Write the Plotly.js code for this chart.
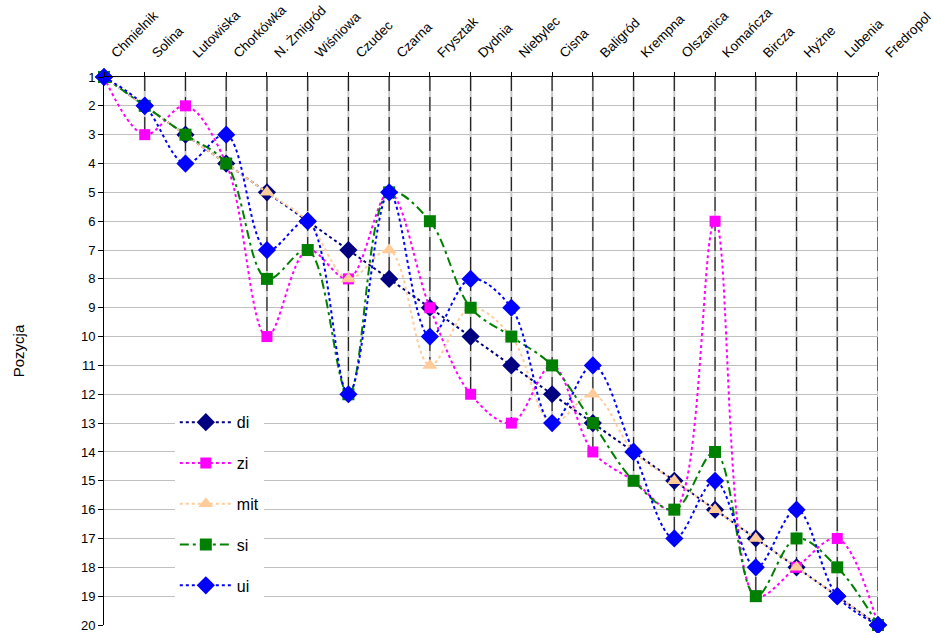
<!DOCTYPE html>
<html>
<head>
<meta charset="utf-8">
<script src="https://cdn.plot.ly/plotly-3.0.1.min.js"></script>
<style>html,body{margin:0;padding:0;background:#fff;}#chart{width:933px;height:633px;}</style>
</head>
<body>
<div id="chart"></div>
<script>
const categories = ["Chmielnik","Solina","Lutowiska","Chorkówka","N. Żmigród","Wiśniowa","Czudec","Czarna","Frysztak","Dydnia","Niebylec","Cisna","Baligród","Krempna","Olszanica","Komańcza","Bircza","Hyżne","Lubenia","Fredropol"];
const di  = [1,2,3,4,5,6,7,8,9,10,11,12,13,14,15,16,17,18,19,20];
const zi  = [1,3,2,4,10,7,8,5,9,12,13,11,14,15,16,6,19,18,17,20];
const mit = [1,2,3,4,5,6,8,7,11,9,10,13,12,14,15,16,17,18,19,20];
const si  = [1,2,3,4,8,7,12,5,6,9,10,11,13,15,16,14,19,17,18,20];
const ui  = [1,2,4,3,7,6,12,5,10,8,9,13,11,14,17,15,18,16,19,20];
const yTicks = [1,2,3,4,5,6,7,8,9,10,11,12,13,14,15,16,17,18,19,20];

const idx = categories.map((c,i)=>i);
const allSeries = [di, zi, mit, si, ui];

// drop lines from the top (value 1) to the lowest position at each category
const dropX = [], dropY = [];
idx.forEach(i => {
  const mx = Math.max(...allSeries.map(s => s[i]));
  dropX.push(i, i, null);
  dropY.push(1, mx, null);
});

const FONT = "Arial, 'Liberation Sans', sans-serif";

function series(name, data, color, dash, symbol, size, mcolor) {
  return {
    type: 'scatter', mode: 'lines+markers', name: name,
    x: idx, y: data, legendgroup: name,
    line: {color: color, width: 2, dash: dash, shape: 'spline', smoothing: 1},
    marker: {symbol: symbol, size: size, color: mcolor || color, line: {width: 0}},
    cliponaxis: false
  };
}

const traces = [
  {type:'scatter', mode:'lines', x: dropX, y: dropY, showlegend:false, hoverinfo:'skip',
   line:{color:'#c8c8c8', width:2}, cliponaxis:false},
  {type:'scatter', mode:'lines', x: dropX, y: dropY, showlegend:false, hoverinfo:'skip',
   line:{color:'#222', width:1.2, dash:'14px,6px'}, cliponaxis:false},
  series('di', di, '#000080', '3px,3px', 'diamond', 14),
  series('zi', zi, '#ff00ff', '3px,3px', 'square', 11),
  series('mit', mit, '#ffcc99', '3px,3px', 'triangle-up', 13),
  series('si', si, '#008000', '9px,4px,3px,4px', 'square', 12),
  series('ui', ui, '#0000ff', '3px,3px', 'diamond', 14)
];

const layout = {
  width: 933, height: 633,
  margin: {l:104, r:55, t:77, b:8},
  paper_bgcolor: '#fff', plot_bgcolor: '#fff',
  font: {family: FONT, size: 13, color: '#000'},
  showlegend: true,
  legend: {
    x: 0.0915, y: 0.401, xanchor: 'left', yanchor: 'top',
    bgcolor: '#fff', borderwidth: 0,
    font: {family: FONT, size: 16, color: '#000'},
    traceorder: 'grouped', tracegroupgap: 17,
    itemwidth: 52
  },
  xaxis: {
    side: 'top', range: [0, 19],
    tickmode: 'array', tickvals: idx, ticktext: categories,
    tickangle: -45, ticks: 'outside', ticklen: 4, tickcolor: '#000',
    ticklabelstandoff: 6, ticklabelshift: 8, ticklabeloverflow: 'allow',
    showline: true, linecolor: '#000', linewidth: 1,
    showgrid: false, zeroline: false,
    tickfont: {family: FONT, size: 13.5, color: '#000'}
  },
  yaxis: {
    range: [20, 1], autorange: false,
    tickmode: 'array', tickvals: yTicks, ticktext: yTicks.map(String),
    ticks: 'outside', ticklen: 5, tickcolor: '#000',
    ticklabeloverflow: 'allow',
    showline: true, linecolor: '#000', linewidth: 1,
    showgrid: true, gridcolor: '#c0c0c0', gridwidth: 1,
    zeroline: false,
    tickfont: {family: FONT, size: 13, color: '#000'},
    title: {text: 'Pozycja', font: {family: FONT, size: 15, color: '#000'}, standoff: 52}
  }
};

Plotly.newPlot('chart', traces, layout, {displayModeBar: false, staticPlot: true});
</script>
</body>
</html>
